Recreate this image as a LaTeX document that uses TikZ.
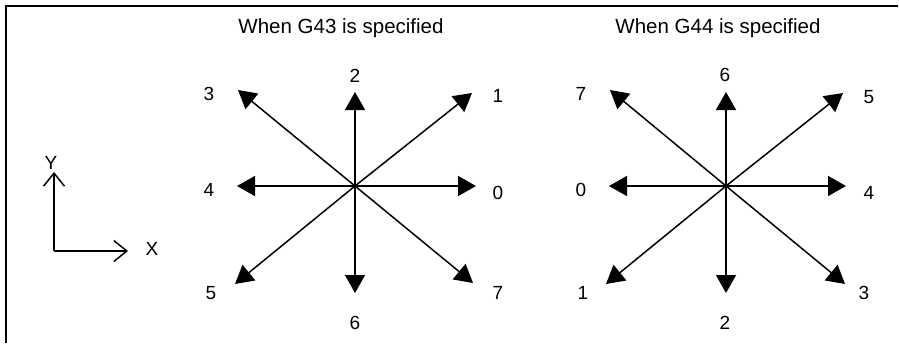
\documentclass[tikz,border=0pt]{standalone}
\usepackage{fontspec}
\setmainfont{Liberation Sans}
\usetikzlibrary{arrows.meta}
\begin{document}
\begin{tikzpicture}[x=1pt,y=-1pt,
  dirarrow/.style={line width=1.5pt,-{Triangle[length=18pt,width=20pt]}},
  axisarrow/.style={line width=1.5pt,-{Straight Barb[length=13pt,width=21pt,line width=1.5pt]}},
  num/.style={inner sep=0pt,font=\fontsize{19}{21}\selectfont},
  title/.style={inner sep=0pt,anchor=base,font=\fontsize{20.5}{24}\selectfont},
  frameline/.style={line width=2.5pt}]
\useasboundingbox (0,0) rectangle (899,343);
\draw[frameline] (6,343) -- (6,6) -- (898,6);
% axes
\coordinate (O) at (54,251);
\coordinate (Xt) at (128,251);
\coordinate (Yt) at (54,172);
\draw[axisarrow] (O) -- (Xt);
\draw[axisarrow] (O) -- (Yt);
\node[num] (xl) at (152,249) {X};
\node[num] (yl) at (51,163) {Y};
% titles
\node[title] (t1) at (341,33.3) {When G43 is specified};
\node[title] (t2) at (718,33.3) {When G44 is specified};
% left diagram
\coordinate (c1) at (355,186);
\coordinate (a0) at (476,186);
\coordinate (a1) at (472,93);
\coordinate (a2) at (355,92);
\coordinate (a3) at (238,90);
\coordinate (a4) at (237,186);
\coordinate (a5) at (235,284);
\coordinate (a6) at (355,293);
\coordinate (a7) at (473,283);
\foreach \i in {0,...,7} {\draw[dirarrow] (c1) -- (a\i);}
\node[num] (l0) at (498,193) {0};
\node[num] (l1) at (498,96) {1};
\node[num] (l2) at (355,76) {2};
\node[num] (l3) at (209,94) {3};
\node[num] (l4) at (209,190) {4};
\node[num] (l5) at (211,293) {5};
\node[num] (l6) at (355,323) {6};
\node[num] (l7) at (498,293) {7};
% right diagram
\coordinate (c2) at (726,186);
\coordinate (b0) at (609,186);
\coordinate (b1) at (606,284);
\coordinate (b2) at (726,293);
\coordinate (b3) at (845,284);
\coordinate (b4) at (846,186);
\coordinate (b5) at (843,93);
\coordinate (b6) at (726,92);
\coordinate (b7) at (610,90);
\foreach \i in {0,...,7} {\draw[dirarrow] (c2) -- (b\i);}
\node[num] (r0) at (581,190) {0};
\node[num] (r1) at (583,293) {1};
\node[num] (r2) at (725,323) {2};
\node[num] (r3) at (864,293) {3};
\node[num] (r4) at (869,193) {4};
\node[num] (r5) at (869,97) {5};
\node[num] (r6) at (725,75) {6};
\node[num] (r7) at (581,94) {7};
\end{tikzpicture}
\end{document}
